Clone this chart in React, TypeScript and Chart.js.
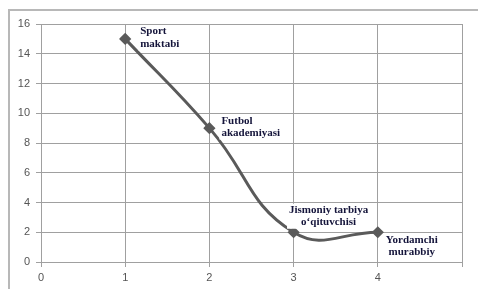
import React, { useEffect, useRef } from "react";
import { Chart, registerables } from "chart.js";

Chart.register(...registerables);

const xValues = [1, 2, 3, 4];
const yValues = [15, 9, 2, 2];
const pointLabels: string[][] = [
  ["Sport", "maktabi"],
  ["Futbol", "akademiyasi"],
  ["Jismoniy tarbiya", "o\u2018qituvchisi"],
  ["Yordamchi", "murabbiy"],
];
const xTickMax = 5;
const yTickMax = 16;

// label placement relative to each point: dx, dy (center of text block), align
const labelPlacement = [
  { dx: 15, dy: -1, align: "left" as CanvasTextAlign },
  { dx: 12, dy: -1, align: "left" as CanvasTextAlign },
  { dx: 35, dy: -16, align: "center" as CanvasTextAlign },
  { dx: 34, dy: 14, align: "center" as CanvasTextAlign },
];

const framePlugin = {
  id: "frame",
  beforeDraw(chart: any) {
    const ctx = chart.ctx;
    ctx.save();
    ctx.strokeStyle = "#b8b8b8";
    ctx.lineWidth = 2;
    ctx.beginPath();
    ctx.moveTo(9, 289);
    ctx.lineTo(9, 10);
    ctx.lineTo(478, 10);
    ctx.stroke();
    ctx.restore();
  },
};

const labelPlugin = {
  id: "pointLabels",
  afterDatasetsDraw(chart: any) {
    const ctx = chart.ctx;
    const meta = chart.getDatasetMeta(0);
    ctx.save();
    ctx.font = "bold 11px 'Liberation Serif', 'Times New Roman', serif";
    ctx.textBaseline = "middle";
    const lh = 12.5;
    meta.data.forEach((pt: any, i: number) => {
      const lines = pointLabels[i];
      const p = labelPlacement[i];
      const cx = pt.x + p.dx;
      const cy = pt.y + p.dy;
      const widths = lines.map((l) => ctx.measureText(l).width);
      const w = Math.max(...widths);
      const h = lines.length * lh;
      let left = cx;
      if (p.align === "center") left = cx - w / 2;
      ctx.fillStyle = "#ffffff";
      ctx.fillRect(left - 2, cy - h / 2, w + 4, h);
      ctx.fillStyle = "#14143a";
      ctx.textAlign = p.align;
      lines.forEach((l, j) => {
        ctx.fillText(l, cx, cy - h / 2 + lh / 2 + j * lh);
      });
    });
    ctx.restore();
  },
};

export default function App() {
  const ref = useRef<HTMLCanvasElement>(null);
  useEffect(() => {
    if (!ref.current) return;
    const chart = new Chart(ref.current, {
      type: "line",
      data: {
        datasets: [
          {
            data: xValues.map((x, i) => ({ x, y: yValues[i] })),
            borderColor: "#5a5a5a",
            backgroundColor: "#5a5a5a",
            borderWidth: 3,
            pointStyle: "rectRot",
            pointRadius: 4,
            pointHoverRadius: 4,
            tension: 0.45,
            fill: false,
          },
        ],
      },
      options: {
        animation: false,
        responsive: false,
        maintainAspectRatio: false,
        layout: { padding: { left: 0, top: 24, right: 16, bottom: 0 } },
        plugins: { legend: { display: false }, tooltip: { enabled: false } },
        scales: {
          x: {
            type: "linear",
            min: 0,
            max: xTickMax,
            ticks: {
              stepSize: 1,
              color: "#555555",
              padding: 4,
              font: { family: "'Liberation Sans', Arial, sans-serif", size: 11 },
              callback: (v: any) => (v === xTickMax ? "" : String(v)),
            },
            grid: { color: "#a0a0a0", lineWidth: 1, tickLength: 5 },
            border: { color: "#a0a0a0" },
            afterFit: (s: any) => {
              s.height = 27;
            },
          },
          y: {
            min: 0,
            max: yTickMax,
            ticks: {
              stepSize: 2,
              color: "#555555",
              padding: 6,
              font: { family: "'Liberation Sans', Arial, sans-serif", size: 11 },
            },
            grid: { color: "#a0a0a0", lineWidth: 1, tickLength: 5 },
            border: { color: "#a0a0a0" },
            afterFit: (s: any) => {
              s.width = 41;
            },
          },
        },
      },
      plugins: [framePlugin, labelPlugin],
    });
    return () => chart.destroy();
  }, []);
  return (
    <div style={{ position: "fixed", left: 0, top: 0, width: 478, height: 289, background: "#fff" }}>
      <canvas ref={ref} width={478} height={289} style={{ width: 478, height: 289 }} />
    </div>
  );
}
